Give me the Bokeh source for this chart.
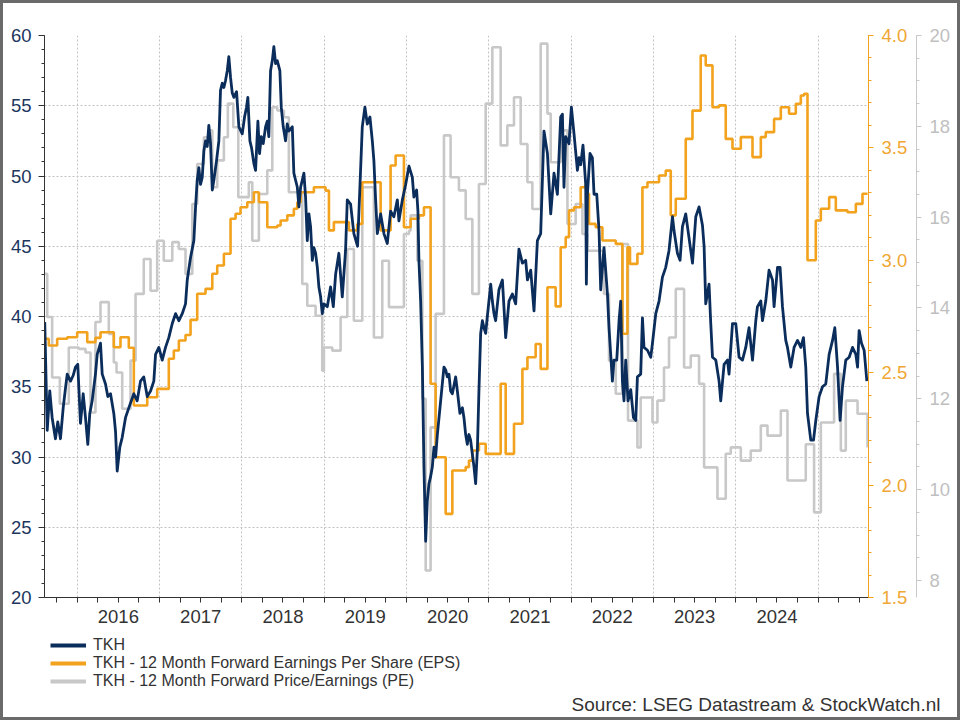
import numpy as np
from bokeh.plotting import figure
from bokeh.layouts import column
from bokeh.models import (Range1d, LinearAxis, FixedTicker, Legend, LegendItem, Title,
                          PrintfTickFormatter, CustomJSTickFormatter)
from bokeh.embed import file_html
from bokeh.resources import INLINE

# ---------------- data (decimal year, value) ----------------
year_labels = ["2016", "2017", "2018", "2019", "2020", "2021", "2022", "2023", "2024"]

tkh_year = [
    2015.606, 2015.636, 2015.667, 2015.696, 2015.736, 2015.764, 2015.797, 2015.830, 2015.858, 2015.879,
    2015.919, 2015.951, 2015.979, 2016.007, 2016.040, 2016.073, 2016.101, 2016.129, 2016.153, 2016.182,
    2016.222, 2016.243, 2016.283, 2016.304, 2016.344, 2016.372, 2016.405, 2016.445, 2016.466, 2016.486,
    2016.518, 2016.547, 2016.587, 2016.627, 2016.688, 2016.729, 2016.769, 2016.809, 2016.851, 2016.891,
    2016.931, 2016.952, 2016.992, 2017.033, 2017.073, 2017.113, 2017.155, 2017.195, 2017.235, 2017.276,
    2017.316, 2017.337, 2017.377, 2017.417, 2017.438, 2017.458, 2017.478, 2017.498, 2017.519, 2017.539,
    2017.559, 2017.580, 2017.599, 2017.620, 2017.641, 2017.660, 2017.693, 2017.721, 2017.741, 2017.762,
    2017.782, 2017.802, 2017.823, 2017.842, 2017.863, 2017.884, 2017.903, 2017.936, 2017.964, 2018.005,
    2018.033, 2018.057, 2018.073, 2018.098, 2018.118, 2018.146, 2018.167, 2018.195, 2018.215, 2018.236,
    2018.260, 2018.288, 2018.309, 2018.328, 2018.349, 2018.370, 2018.389, 2018.410, 2018.431, 2018.462,
    2018.479, 2018.503, 2018.531, 2018.552, 2018.571, 2018.613, 2018.632, 2018.653, 2018.674, 2018.693,
    2018.714, 2018.734, 2018.754, 2018.774, 2018.795, 2018.815, 2018.835, 2018.856, 2018.875, 2018.896,
    2018.917, 2018.936, 2018.957, 2018.977, 2018.997, 2019.038, 2019.078, 2019.111, 2019.139, 2019.179,
    2019.220, 2019.260, 2019.281, 2019.321, 2019.361, 2019.406, 2019.463, 2019.495, 2019.524, 2019.556,
    2019.585, 2019.604, 2019.625, 2019.646, 2019.686, 2019.726, 2019.767, 2019.807, 2019.847, 2019.889,
    2019.908, 2019.950, 2019.990, 2020.030, 2020.071, 2020.090, 2020.123, 2020.139, 2020.151, 2020.172,
    2020.193, 2020.212, 2020.233, 2020.253, 2020.273, 2020.293, 2020.314, 2020.334, 2020.354, 2020.375,
    2020.415, 2020.455, 2020.476, 2020.496, 2020.516, 2020.536, 2020.557, 2020.597, 2020.618, 2020.649,
    2020.679, 2020.698, 2020.719, 2020.739, 2020.759, 2020.779, 2020.800, 2020.820, 2020.840, 2020.861,
    2020.880, 2020.901, 2020.922, 2020.941, 2020.962, 2020.982, 2021.023, 2021.043, 2021.063, 2021.083,
    2021.123, 2021.165, 2021.205, 2021.245, 2021.286, 2021.326, 2021.366, 2021.408, 2021.448, 2021.469,
    2021.509, 2021.549, 2021.590, 2021.630, 2021.670, 2021.712, 2021.752, 2021.792, 2021.833, 2021.873,
    2021.894, 2021.913, 2021.934, 2021.974, 2022.003, 2022.035, 2022.076, 2022.096, 2022.116, 2022.144,
    2022.177, 2022.185, 2022.198, 2022.229, 2022.258, 2022.278, 2022.311, 2022.339, 2022.359, 2022.399,
    2022.441, 2022.460, 2022.501, 2022.521, 2022.554, 2022.582, 2022.602, 2022.623, 2022.642, 2022.663,
    2022.691, 2022.724, 2022.757, 2022.785, 2022.805, 2022.845, 2022.866, 2022.885, 2022.927, 2022.967,
    2022.988, 2023.028, 2023.068, 2023.109, 2023.149, 2023.189, 2023.231, 2023.250, 2023.291, 2023.323,
    2023.352, 2023.392, 2023.432, 2023.474, 2023.514, 2023.554, 2023.595, 2023.615, 2023.635, 2023.675,
    2023.696, 2023.717, 2023.757, 2023.797, 2023.817, 2023.858, 2023.899, 2023.918, 2023.960, 2024.000,
    2024.040, 2024.081, 2024.121, 2024.161, 2024.203, 2024.243, 2024.263, 2024.304, 2024.324, 2024.364,
    2024.404, 2024.446, 2024.465, 2024.507, 2024.538, 2024.567, 2024.607, 2024.628, 2024.668, 2024.708,
    2024.750, 2024.790, 2024.822, 2024.850, 2024.871, 2024.911, 2024.944, 2024.972, 2025.012, 2025.053,
    2025.093, 2025.134, 2025.175, 2025.203, 2025.236, 2025.267, 2025.296, 2025.336, 2025.377, 2025.418,
    2025.458, 2025.479, 2025.498, 2025.527, 2025.559, 2025.592]

tkh_price = [
    39.6, 31.9, 34.7, 32.8, 31.3, 32.5, 31.3, 33.5, 34.9, 35.9,
    35.4, 35.8, 36.4, 36.6, 32.4, 34.5, 32.8, 30.9, 33.1, 34.0,
    35.9, 37.3, 38.1, 35.9, 35.2, 34.3, 34.5, 33.1, 31.8, 29.0,
    30.7, 31.4, 32.8, 33.5, 34.5, 34.0, 35.4, 35.7, 34.3, 34.7,
    35.4, 37.3, 37.8, 36.9, 37.8, 38.5, 39.5, 40.2, 39.7, 40.2,
    40.9, 42.6, 44.2, 45.4, 47.8, 49.7, 50.6, 49.4, 49.9, 51.8,
    52.5, 52.1, 53.6, 52.3, 49.0, 49.7, 51.1, 52.5, 56.1, 56.6,
    56.3, 56.8, 57.5, 58.5, 57.0, 55.9, 55.6, 56.0, 53.5, 53.0,
    54.2, 54.9, 55.6, 52.5, 52.0, 50.9, 50.4, 53.9, 51.6, 52.8,
    52.3, 53.5, 53.9, 52.8, 57.5, 58.2, 59.2, 58.0, 58.2, 57.5,
    54.9, 53.5, 52.5, 53.7, 53.2, 53.5, 50.2, 49.7, 49.2, 47.8,
    49.2, 49.7, 50.2, 48.5, 45.4, 47.3, 46.4, 44.0, 44.9, 44.5,
    43.5, 42.1, 41.4, 40.2, 40.9, 40.7, 42.1, 40.7, 43.0, 44.5,
    41.4, 44.7, 48.3, 48.0, 45.9, 45.0, 53.5, 54.9, 53.7, 54.2,
    52.5, 51.1, 48.3, 45.9, 47.3, 45.9, 45.2, 47.5, 47.1, 48.3,
    46.8, 48.3, 49.4, 50.7, 49.9, 48.5, 49.0, 47.5, 44.0, 41.1,
    36.4, 29.3, 24.0, 26.9, 28.1, 28.6, 29.3, 30.7, 30.0, 31.6,
    34.0, 36.4, 36.2, 35.7, 35.9, 34.7, 34.5, 35.7, 34.7, 33.1,
    33.5, 32.8, 31.6, 30.9, 31.6, 31.2, 30.2, 29.3, 28.1, 30.5,
    34.7, 38.8, 39.7, 39.2, 38.8, 40.0, 42.3, 41.1, 40.2, 39.7,
    41.9, 42.6, 38.5, 41.1, 41.6, 40.9, 44.8, 43.8, 44.0, 42.6,
    43.3, 40.4, 45.4, 45.9, 53.2, 51.6, 47.3, 50.2, 48.7, 54.2,
    54.4, 49.2, 52.8, 52.3, 54.9, 53.0, 50.4, 51.3, 50.8, 52.2,
    49.4, 42.3, 48.7, 51.6, 51.3, 48.7, 48.7, 46.1, 41.9, 44.9,
    41.6, 39.2, 35.4, 36.9, 36.9, 39.7, 41.1, 35.4, 34.0, 36.9,
    34.0, 34.8, 32.8, 32.6, 35.7, 35.9, 39.9, 37.8, 37.6, 37.1,
    38.1, 40.2, 41.1, 42.8, 43.5, 44.7, 47.1, 46.1, 44.5, 44.0,
    46.4, 47.3, 45.6, 43.8, 47.1, 47.8, 46.5, 45.0, 40.9, 42.3,
    39.5, 37.1, 36.9, 35.4, 34.0, 36.6, 36.9, 35.9, 39.5, 39.5,
    37.1, 36.9, 37.8, 39.2, 36.9, 39.7, 40.7, 41.1, 39.7, 41.1,
    43.3, 42.6, 40.7, 43.5, 43.5, 40.7, 38.3, 37.8, 36.4, 37.8,
    38.3, 37.8, 38.5, 36.4, 33.1, 31.2, 31.2, 32.6, 34.3, 35.0,
    35.2, 37.3, 38.3, 39.2, 36.4, 32.6, 35.0, 36.9, 37.1, 37.8,
    37.3, 36.4, 39.0, 38.1, 37.6, 35.4]

eps_year = [
    2015.606, 2015.655, 2015.757, 2015.879, 2016.000, 2016.122, 2016.222, 2016.283, 2016.445, 2016.526,
    2016.627, 2016.688, 2016.851, 2016.972, 2017.113, 2017.174, 2017.235, 2017.316, 2017.377, 2017.458,
    2017.559, 2017.641, 2017.701, 2017.782, 2017.863, 2017.924, 2017.984, 2018.066, 2018.146, 2018.207,
    2018.309, 2018.431, 2018.471, 2018.552, 2018.632, 2018.674, 2018.714, 2018.875, 2019.017, 2019.058,
    2019.118, 2019.301, 2019.403, 2019.463, 2019.686, 2019.807, 2019.868, 2019.969, 2020.050, 2020.151,
    2020.212, 2020.293, 2020.354, 2020.476, 2020.557, 2020.719, 2020.759, 2020.800, 2020.880, 2020.962,
    2021.144, 2021.205, 2021.306, 2021.408, 2021.469, 2021.569, 2021.630, 2021.712, 2021.812, 2021.873,
    2021.934, 2021.974, 2022.035, 2022.116, 2022.177, 2022.198, 2022.217, 2022.298, 2022.380, 2022.542,
    2022.623, 2022.684, 2022.715, 2022.805, 2022.866, 2022.927, 2023.068, 2023.149, 2023.210, 2023.271,
    2023.392, 2023.474, 2023.574, 2023.635, 2023.717, 2023.797, 2023.878, 2023.960, 2024.061, 2024.203,
    2024.304, 2024.364, 2024.465, 2024.547, 2024.647, 2024.729, 2024.790, 2024.830, 2024.871, 2024.972,
    2025.033, 2025.134, 2025.215, 2025.357, 2025.458, 2025.539, 2025.600]

eps_value = [
    2.651, 2.621, 2.651, 2.658, 2.680, 2.636, 2.655, 2.680, 2.613, 2.658,
    2.611, 2.354, 2.391, 2.428, 2.562, 2.599, 2.643, 2.668, 2.735, 2.851,
    2.873, 2.940, 2.977, 3.029, 3.185, 3.207, 3.236, 3.258, 3.303, 3.258,
    3.147, 3.155, 3.177, 3.200, 3.229, 3.258, 3.303, 3.325, 3.310, 3.133,
    3.170, 3.133, 3.162, 3.347, 3.133, 3.422, 3.466, 3.147, 3.185, 3.200,
    3.236, 2.451, 2.124, 1.872, 2.065, 2.080, 2.109, 2.154, 2.184, 2.139,
    2.451, 2.139, 2.273, 2.517, 2.569, 2.628, 2.517, 2.880, 2.795, 3.058,
    3.103, 3.222, 3.236, 3.325, 3.340, 3.296, 3.162, 3.147, 3.088, 3.073,
    2.673, 3.058, 2.984, 3.029, 3.325, 3.347, 3.377, 3.399, 3.200, 3.274,
    3.540, 3.666, 3.911, 3.867, 3.681, 3.689, 3.540, 3.496, 3.548, 3.459,
    3.548, 3.570, 3.629, 3.681, 3.652, 3.696, 3.733, 3.741, 3.000, 3.177,
    3.229, 3.281, 3.222, 3.214, 3.251, 3.296, 3.296]

pe_year = [
    2015.606, 2015.636, 2015.696, 2015.789, 2015.898, 2016.020, 2016.101, 2016.162, 2016.222, 2016.283,
    2016.384, 2016.445, 2016.478, 2016.547, 2016.648, 2016.709, 2016.809, 2016.891, 2016.972, 2017.052,
    2017.155, 2017.235, 2017.316, 2017.398, 2017.458, 2017.539, 2017.599, 2017.641, 2017.701, 2017.782,
    2017.830, 2017.896, 2017.957, 2018.085, 2018.127, 2018.207, 2018.309, 2018.370, 2018.431, 2018.511,
    2018.571, 2018.734, 2018.795, 2018.896, 2018.977, 2018.997, 2019.099, 2019.200, 2019.281, 2019.361,
    2019.463, 2019.604, 2019.706, 2019.787, 2019.969, 2020.030, 2020.050, 2020.132, 2020.193, 2020.233,
    2020.293, 2020.354, 2020.455, 2020.536, 2020.637, 2020.719, 2020.800, 2020.880, 2020.962, 2021.043,
    2021.144, 2021.225, 2021.306, 2021.387, 2021.469, 2021.529, 2021.630, 2021.712, 2021.752, 2021.873,
    2021.955, 2022.055, 2022.137, 2022.198, 2022.399, 2022.460, 2022.542, 2022.623, 2022.691, 2022.805,
    2022.845, 2022.988, 2023.048, 2023.128, 2023.189, 2023.271, 2023.372, 2023.453, 2023.554, 2023.615,
    2023.777, 2023.878, 2023.939, 2024.061, 2024.182, 2024.304, 2024.385, 2024.547, 2024.628, 2024.850,
    2024.951, 2025.033, 2025.194, 2025.276, 2025.336, 2025.479, 2025.600]

pe_value = [
    14.75, 13.80, 12.47, 11.89, 13.13, 13.10, 13.02, 11.70, 13.69, 14.13,
    13.43, 12.80, 12.58, 11.78, 12.84, 14.31, 15.08, 14.38, 15.48, 15.04,
    15.45, 15.30, 14.75, 16.29, 17.17, 17.76, 17.91, 16.66, 17.25, 17.76,
    18.50, 17.98, 16.44, 16.77, 15.48, 16.51, 17.03, 18.42, 18.35, 18.20,
    16.55, 14.53, 14.05, 13.83, 12.62, 13.13, 13.06, 13.80, 15.30, 13.72,
    16.66, 13.35, 15.04, 14.02, 15.63, 15.70, 16.04, 15.04, 12.00, 8.22,
    11.37, 13.87, 17.80, 16.88, 16.59, 15.96, 14.31, 16.73, 18.50, 19.74,
    17.58, 18.02, 18.64, 17.61, 16.77, 16.18, 19.82, 18.28, 17.21, 17.91,
    15.85, 16.29, 15.63, 15.26, 14.31, 12.84, 12.11, 15.41, 11.52, 10.93,
    12.03, 11.48, 11.96, 12.69, 13.35, 14.42, 12.69, 12.95, 12.33, 10.49,
    9.80, 10.79, 10.93, 10.64, 10.86, 11.41, 11.19, 11.74, 10.20, 11.00,
    9.50, 11.48, 12.55, 10.86, 11.96, 11.67, 10.93]

series_names = ["TKH",
                "TKH - 12 Month Forward Earnings Per Share (EPS)",
                "TKH - 12 Month Forward Price/Earnings (PE)"]
source_text = "Source: LSEG Datastream & StockWatch.nl"

# ---------------- styling ----------------
FONT = "Liberation Sans"
NAVY = "#0b2d5b"
ORANGE = "#f2a21c"
GREY = "#c8c8c8"
TEXT = "#333333"
LEFT, RIGHT = 41, 89

n1 = min(len(tkh_year), len(tkh_price))
n2 = min(len(eps_year), len(eps_value))
n3 = min(len(pe_year), len(pe_value))

p = figure(width=954, height=627, output_backend="svg", toolbar_location=None,
           x_range=Range1d(2015.603, 2025.612), y_range=Range1d(20, 60),
           min_border_left=LEFT, min_border_right=RIGHT, min_border_top=32, min_border_bottom=33)
p.outline_line_color = None
p.background_fill_color = "white"
p.border_fill_color = "white"
p.extra_y_ranges = {"eps": Range1d(1.5, 4.0), "pe": Range1d(7.625, 20)}

# grid
grid_style = dict(grid_line_color="#c2c2c2", grid_line_dash="2 2", grid_line_width=1)
p.xgrid.ticker = FixedTicker(ticks=[int(y) for y in year_labels] + [2025])
p.xgrid.update(**grid_style)
p.ygrid.update(**grid_style)

# x axis
xax = p.xaxis[0]
xax.ticker = FixedTicker(ticks=[int(y) + 0.5 for y in year_labels],
                         minor_ticks=[float(v) for v in np.arange(2015.75, 2025.51, 0.25)])
xax.formatter = CustomJSTickFormatter(code="return String(Math.floor(tick));")
xax.major_tick_out = 0
xax.major_tick_in = 0
xax.minor_tick_out = 5
xax.minor_tick_in = 0
xax.axis_line_color = TEXT
xax.minor_tick_line_color = TEXT
xax.major_label_standoff = 7
xax.major_label_text_font = FONT
xax.major_label_text_font_size = "18.5px"
xax.major_label_text_color = TEXT

# left axis
yax = p.yaxis[0]
yax.ticker = FixedTicker(ticks=list(range(20, 61, 5)), minor_ticks=list(range(20, 61)))
yax.major_tick_out = 6
yax.major_tick_in = 0
yax.minor_tick_out = 3
yax.minor_tick_in = 0
yax.axis_line_color = TEXT
yax.major_tick_line_color = TEXT
yax.minor_tick_line_color = TEXT
yax.major_label_standoff = 7
yax.major_label_text_font = FONT
yax.major_label_text_font_size = "18.5px"
yax.major_label_text_color = "#1d365e"

# right axis: EPS
ax_eps = LinearAxis(y_range_name="eps",
                    ticker=FixedTicker(ticks=[1.5, 2.0, 2.5, 3.0, 3.5, 4.0],
                                       minor_ticks=[round(1.5 + 0.1 * i, 1) for i in range(26)]),
                    formatter=PrintfTickFormatter(format="%.1f"))
ax_eps.update(axis_line_color=ORANGE, major_tick_line_color=ORANGE, minor_tick_line_color=ORANGE,
              major_tick_out=5, major_tick_in=0, minor_tick_out=3, minor_tick_in=0,
              major_label_standoff=8, major_label_text_font=FONT,
              major_label_text_font_size="18.5px", major_label_text_color="#f0a733")
p.add_layout(ax_eps, "right")

# invisible spacer between the two right axes
spacer = LinearAxis(y_range_name="eps", ticker=FixedTicker(ticks=[2.5], minor_ticks=[]),
                    formatter=CustomJSTickFormatter(code="return '';"),
                    axis_line_color=None, major_tick_line_color=None, minor_tick_line_color=None,
                    major_tick_out=6, major_tick_in=0, minor_tick_out=0, minor_tick_in=0,
                    major_label_standoff=0)
p.add_layout(spacer, "right")

# right axis: PE
ax_pe = LinearAxis(y_range_name="pe",
                   ticker=FixedTicker(ticks=list(range(8, 21, 2)),
                                      minor_ticks=[8 + 0.5 * i for i in range(25)]))
ax_pe.update(axis_line_color=GREY, major_tick_line_color=GREY, minor_tick_line_color=GREY,
             major_tick_out=5, major_tick_in=0, minor_tick_out=3, minor_tick_in=0,
             major_label_standoff=8, major_label_text_font=FONT,
             major_label_text_font_size="18.5px", major_label_text_color="#bfbfbf")
p.add_layout(ax_pe, "right")

# series
p.step(pe_year[:n3], pe_value[:n3], mode="after", line_color=GREY, line_width=2.6, y_range_name="pe")
p.step(eps_year[:n2], eps_value[:n2], mode="after", line_color=ORANGE, line_width=2.6, y_range_name="eps")
p.line(tkh_year[:n1], tkh_price[:n1], line_color=NAVY, line_width=2.8, line_join="round")

# ---------------- legend + source strip ----------------
LEG_H = 87
leg = figure(width=954, height=LEG_H, output_backend="svg", toolbar_location=None,
             x_range=Range1d(0, 1), y_range=Range1d(0, 1),
             x_axis_location=None, y_axis_location=None,
             min_border_left=LEFT, min_border_right=RIGHT, min_border_top=0, min_border_bottom=25)
leg.grid.visible = False
leg.outline_line_color = None
leg.background_fill_color = "white"
leg.border_fill_color = "white"

nan = float("nan")
icons = [leg.line(x=[nan], y=[nan], line_color=c, line_width=4) for c in (NAVY, ORANGE, GREY)]
legend = Legend(items=[LegendItem(label=n, renderers=[r]) for n, r in zip(series_names, icons)],
                location="top_left", orientation="vertical",
                label_text_font=FONT, label_text_font_size="16px", label_text_color=TEXT,
                glyph_width=36, glyph_height=18, label_height=18, label_standoff=7,
                spacing=0, padding=2, margin=6, border_line_color=None,
                background_fill_alpha=0)
leg.add_layout(legend)

leg.add_layout(Title(text=source_text, align="right", offset=-72, vertical_align="middle",
                     standoff=0, text_font=FONT, text_font_size="19px",
                     text_font_style="normal", text_color=TEXT), "below")

layout = column(p, leg, spacing=0,
                styles={"border": "3px solid #6a6a6a", "box-sizing": "content-box",
                        "background-color": "white"})

open("out.html", "w").write(file_html(layout, INLINE))
